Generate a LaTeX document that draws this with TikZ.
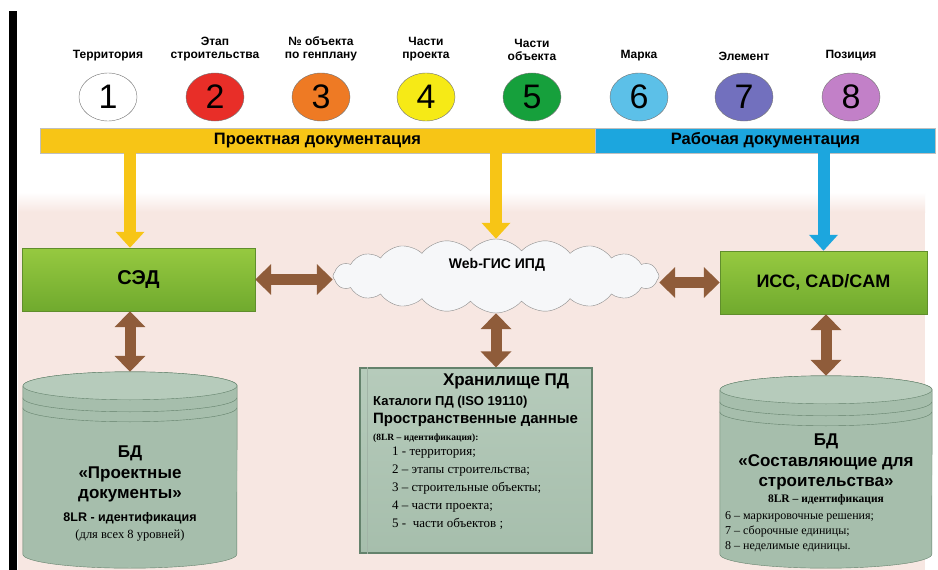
\documentclass[tikz,border=0pt]{standalone}
\usepackage{fontspec}
\setmainfont{Liberation Sans}
\newfontfamily\itemfont{Liberation Serif}
\usetikzlibrary{arrows.meta,shapes.geometric,shapes.symbols,calc,positioning}
\definecolor{pdYellow}{RGB}{247,197,22}
\definecolor{rdBlue}{RGB}{28,166,222}
\definecolor{bgPink}{RGB}{247,231,226}
\definecolor{boxGreenTop}{RGB}{150,201,64}
\definecolor{boxGreenBot}{RGB}{112,170,46}
\definecolor{boxGreenLine}{RGB}{96,142,44}
\definecolor{dbFill}{RGB}{166,190,172}
\definecolor{dbTop}{RGB}{182,203,187}
\definecolor{dbLine}{RGB}{100,130,108}
\definecolor{arrowBrown}{RGB}{143,92,58}
\definecolor{cloudFill}{RGB}{246,247,249}
\definecolor{lvlRed}{RGB}{232,46,40}
\definecolor{lvlOrange}{RGB}{238,122,36}
\definecolor{lvlYellow}{RGB}{246,234,22}
\definecolor{lvlGreen}{RGB}{22,160,60}
\definecolor{lvlBlue}{RGB}{92,192,232}
\definecolor{lvlViolet}{RGB}{114,112,190}
\definecolor{lvlPink}{RGB}{194,128,200}
\tikzset{lvlcirc/.style={ellipse, draw=black!55, minimum width=58, minimum height=48, inner sep=0pt, font=\fontsize{34}{34}\selectfont}}
\tikzset{levellabel/.style={align=center, inner sep=1pt, font=\bfseries\fontsize{12}{13}\selectfont}}
\tikzset{docbar/.style={draw=black!25, minimum height=25, inner sep=0pt, font=\bfseries\fontsize{16.5}{18}\selectfont}}
\tikzset{sysbox/.style={draw=boxGreenLine, top color=boxGreenTop, bottom color=boxGreenBot, minimum height=63, inner sep=0pt}}
\tikzset{dbbody/.style={draw=dbLine, fill=dbFill}}
\tikzset{dbtext/.style={align=center, inner sep=0pt, font=\bfseries\fontsize{17}{20.5}\selectfont}}
\tikzstyle{downarrow} = [line width=12pt, -{Triangle[length=16pt,width=28pt]}]
\tikzstyle{linkarrow} = [draw=arrowBrown, line width=11pt, {Triangle[length=16pt,width=30pt]}-{Triangle[length=16pt,width=30pt]}]

\begin{document}
\begin{tikzpicture}[x=1pt, y=-1pt]
	\useasboundingbox (0,0) rectangle (938,570);
	% Background
	\fill[white] (0,0) rectangle (938,570);
	\shade[top color=white, bottom color=bgPink] (18,192) rectangle (925,212);
	\fill[bgPink] (18,212) rectangle (925,570);
	\fill[black] (9,11) rectangle (17,570);

	% Levels
	\foreach \num/\px/\col/\txt in {
		1/108/white/{Территория},
		2/215/lvlRed/{Этап\\строительства},
		3/321/lvlOrange/{№ объекта\\по генплану},
		4/426/lvlYellow/{Части\\проекта},
		5/532/lvlGreen/{Части\\объекта},
		6/639/lvlBlue/{Марка},
		7/744/lvlViolet/{Элемент},
		8/851/lvlPink/{Позиция}}
	{
		\node (lvl\num) [lvlcirc, fill=\col] at (\px,97) {\num};
		\node (lbl\num) [levellabel, above=11pt of lvl\num] {\txt};
	}

	% Documentation bars
	\node (pdbar) [docbar, fill=pdYellow, minimum width=555] at (317.5,140.5) {Проектная документация};
	\node (rdbar) [docbar, fill=rdBlue, minimum width=340, right=0pt of pdbar] {Рабочая документация};

	% Systems
	\node (sed) [sysbox, minimum width=233, font=\bfseries\fontsize{20}{22}\selectfont] at (138.5,279.5) {СЭД};
	\node (iss) [sysbox, minimum width=207, font=\bfseries\fontsize{18}{20}\selectfont] at (823.5,282.5) {ИСС, CAD/CAM};
	\node (gis) [cloud, cloud puffs=20, cloud puff arc=100, aspect=4.6, draw=black!45, fill=cloudFill, minimum width=326, minimum height=74] at (496,276) {};
	\node (gislabel) [font=\bfseries\fontsize{14}{16}\selectfont] at (497,265) {Web-ГИС ИПД};

	% Databases
	\node (bdproj) [minimum width=214, minimum height=196, inner sep=0pt] at (130,470) {};
	\node (bdsost) [minimum width=212, minimum height=192, inner sep=0pt] at (826,472) {};
	\foreach \db/\rx in {bdproj/107, bdsost/106}
	{
		\draw[dbbody] ($(\db.north west)+(0,14)$) -- ($(\db.south west)+(0,-14)$)
			arc[start angle=180, end angle=0, x radius=\rx, y radius=14]
			-- ($(\db.north east)+(0,14)$)
			arc[start angle=0, end angle=-180, x radius=\rx, y radius=14] -- cycle;
		\draw[dbbody, fill=dbTop] ($(\db.north)+(0,14)$) ellipse [x radius=\rx, y radius=14];
		\foreach \off in {26,36}
			\draw[dbLine] ($(\db.north west)+(0,\off)$) arc[start angle=180, end angle=0, x radius=\rx, y radius=14];
	}
	\node (bdprojtitle) [dbtext] at (130,474) {БД\\«Проектные\\документы»};
	\node (bdprojnote) [align=center, inner sep=0pt, font=\fontsize{12.5}{17}\selectfont] at (130,527)
		{\textbf{8LR - идентификация}\\{\itemfont (для всех 8 уровней)}};
	\node (bdsosttitle) [dbtext] at (826,462) {БД\\«Составляющие для\\строительства»};
	\node (bdsostnote) [inner sep=0pt, font=\itemfont\bfseries\fontsize{11.5}{13}\selectfont] at (826,500) {8LR – идентификация};
	\node (bdsostlist) [anchor=west, align=left, inner sep=0pt, font=\itemfont\fontsize{12}{15}\selectfont] at (725,532)
		{6 – маркировочные решения;\\7 – сборочные единицы;\\8 – неделимые единицы.};

	% Storage
	\node (store) [draw=dbLine, line width=1.2pt, top color=dbTop, bottom color=dbFill, minimum width=232, minimum height=185] at (476,460.5) {};
	\draw[dbLine!60] ($(store.north west)+(8,0)$) -- ($(store.south west)+(8,0)$);
	\node (storetitle) [font=\bfseries\fontsize{17}{19}\selectfont] at (506,381) {Хранилище ПД};
	\node (storecat) [anchor=west, inner sep=0pt, font=\bfseries\fontsize{13}{15}\selectfont] at (373,402) {Каталоги ПД (ISO 19110)};
	\node (storegeo) [anchor=west, inner sep=0pt, font=\bfseries\fontsize{15}{17}\selectfont] at (373,420) {Пространственные данные};
	\node (storelr) [anchor=west, inner sep=0pt, font=\itemfont\bfseries\fontsize{9.5}{11}\selectfont] at (373,438) {(8LR – идентификация):};
	\node (storelist) [anchor=north west, align=left, inner sep=0pt, font=\itemfont\fontsize{13}{18}\selectfont] at (392,447)
		{1 - территория;\\2 – этапы строительства;\\3 – строительные объекты;\\4 – части проекта;\\5 -\ \ части объектов ;};

	% Connectors
	\draw[downarrow, pdYellow] (pdbar.south -| bdproj.north) -- (sed.north -| bdproj.north);
	\draw[downarrow, pdYellow] (pdbar.south -| gis.north) -- (gis.north);
	\draw[downarrow, rdBlue] (rdbar.south -| iss.north) -- (iss.north);

	\draw[linkarrow] (sed.east) -- (sed.east -| gis.west);
	\draw[linkarrow] (gis.east |- iss.west) -- (iss.west);
	\draw[linkarrow] (sed.south -| bdproj.north) -- (bdproj.north);
	\draw[linkarrow] (gis.south) -- (gis.south |- store.north);
	\draw[linkarrow] (iss.south -| bdsost.north) -- (bdsost.north);
\end{tikzpicture}
\end{document}
